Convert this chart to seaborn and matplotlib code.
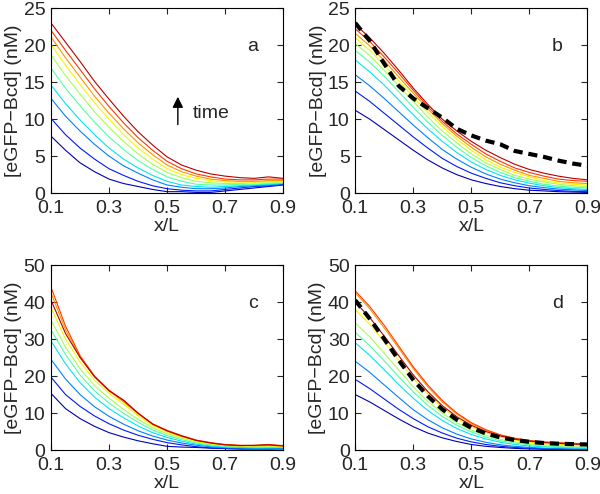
import numpy as np
import pandas as pd
import matplotlib
matplotlib.use("Agg")
import matplotlib.pyplot as plt
import seaborn as sns

# ---------------- data ----------------
x_pos = [0.10, 0.15, 0.20, 0.25, 0.30, 0.35, 0.40, 0.45, 0.50,
         0.55, 0.60, 0.65, 0.70, 0.75, 0.80, 0.85, 0.90]

# panel a: measured profiles, early (blue) -> late (dark red)
a_curves = [
    [7.7, 5.8, 4.1, 2.9, 1.9, 1.3, 0.9, 0.5, 0.2, 0.2, 0.1, 0.1, 0.3, 0.5, 0.7, 0.9, 1.1],
    [10.1, 7.9, 6.1, 4.6, 3.3, 2.4, 1.6, 1.0, 0.6, 0.4, 0.3, 0.3, 0.5, 0.7, 0.9, 1.0, 1.2],
    [12.8, 10.4, 8.4, 6.6, 5.0, 3.7, 2.7, 1.8, 1.1, 0.8, 0.6, 0.6, 0.7, 0.9, 1.0, 1.1, 1.3],
    [14.6, 12.1, 9.9, 7.9, 6.1, 4.6, 3.4, 2.4, 1.6, 1.1, 0.9, 0.8, 0.9, 1.0, 1.1, 1.2, 1.3],
    [16.9, 14.2, 11.8, 9.6, 7.6, 5.9, 4.4, 3.2, 2.2, 1.6, 1.2, 1.1, 1.1, 1.2, 1.2, 1.3, 1.4],
    [18.7, 15.9, 13.4, 11.0, 8.9, 7.0, 5.3, 3.9, 2.8, 2.1, 1.6, 1.4, 1.3, 1.3, 1.4, 1.4, 1.5],
    [20.1, 17.3, 14.7, 12.2, 10.0, 7.9, 6.1, 4.6, 3.3, 2.5, 2.0, 1.7, 1.5, 1.5, 1.5, 1.6, 1.6],
    [21.1, 18.3, 15.7, 13.1, 10.8, 8.7, 6.8, 5.2, 3.8, 2.9, 2.3, 1.9, 1.7, 1.6, 1.6, 1.7, 1.7],
    [22.0, 19.3, 16.7, 14.1, 11.7, 9.5, 7.5, 5.8, 4.3, 3.3, 2.6, 2.2, 1.9, 1.8, 1.8, 1.9, 1.9],
    [23.0, 20.4, 17.8, 15.1, 12.7, 10.4, 8.3, 6.5, 4.9, 3.8, 3.1, 2.6, 2.3, 2.1, 2.0, 2.2, 2.0],
]

# panel b: model profiles + dashed measured profile
b_curves = [
    [11.2, 10.0, 8.6, 7.2, 5.8, 4.5, 3.4, 2.5, 1.8, 1.3, 0.9, 0.6, 0.4, 0.3, 0.2, 0.15, 0.1],
    [13.8, 12.4, 10.8, 9.2, 7.6, 6.1, 4.7, 3.6, 2.7, 2.0, 1.4, 1.0, 0.7, 0.5, 0.35, 0.25, 0.2],
    [16.0, 14.5, 12.8, 11.0, 9.2, 7.5, 5.9, 4.6, 3.5, 2.6, 1.9, 1.4, 1.0, 0.75, 0.55, 0.45, 0.35],
    [18.0, 16.4, 14.6, 12.6, 10.6, 8.7, 7.0, 5.5, 4.2, 3.2, 2.4, 1.8, 1.35, 1.0, 0.75, 0.6, 0.5],
    [19.3, 17.7, 15.8, 13.7, 11.6, 9.6, 7.8, 6.2, 4.8, 3.7, 2.8, 2.1, 1.6, 1.2, 0.95, 0.8, 0.7],
    [20.2, 18.6, 16.6, 14.5, 12.4, 10.3, 8.4, 6.8, 5.3, 4.1, 3.2, 2.4, 1.9, 1.5, 1.2, 1.0, 0.9],
    [21.0, 19.3, 17.3, 15.2, 13.0, 10.9, 9.0, 7.3, 5.8, 4.5, 3.5, 2.8, 2.2, 1.7, 1.4, 1.2, 1.1],
    [21.6, 19.9, 17.9, 15.7, 13.5, 11.4, 9.4, 7.7, 6.2, 4.9, 3.9, 3.1, 2.4, 2.0, 1.6, 1.4, 1.3],
    [22.2, 20.5, 18.4, 16.2, 13.9, 11.7, 9.7, 8.0, 6.6, 5.3, 4.3, 3.4, 2.8, 2.3, 1.9, 1.7, 1.6],
    [22.8, 21.0, 18.9, 16.6, 14.2, 12.0, 10.0, 8.4, 7.0, 5.8, 4.8, 3.9, 3.2, 2.7, 2.3, 2.0, 1.8],
]
b_dashed = [23.0, 20.6, 17.5, 14.5, 12.8, 11.5, 10.2, 8.7, 7.8, 7.1, 6.6, 5.7, 5.3, 4.9, 4.4, 4.0, 3.7]

# panel c: measured profiles
c_curves = [
    [15.3, 11.2, 8.5, 6.4, 4.7, 3.5, 2.5, 1.7, 1.0, 0.8, 0.7, 0.5, 0.4, 0.3, 0.3, 0.3, 0.3],
    [19.7, 15.0, 11.8, 9.2, 7.1, 5.4, 4.0, 2.9, 2.0, 1.4, 0.9, 0.6, 0.4, 0.3, 0.3, 0.3, 0.4],
    [24.5, 19.2, 15.0, 11.7, 9.1, 7.0, 5.2, 3.8, 2.7, 1.9, 1.3, 0.9, 0.6, 0.5, 0.4, 0.5, 0.5],
    [29.5, 23.3, 18.2, 14.3, 11.2, 8.7, 6.5, 4.7, 3.4, 2.4, 1.6, 1.1, 0.8, 0.7, 0.6, 0.6, 0.6],
    [32.5, 25.8, 20.3, 16.0, 12.7, 9.9, 7.5, 5.4, 3.9, 2.8, 1.9, 1.4, 1.0, 0.9, 0.8, 0.8, 0.8],
    [35.1, 27.8, 22.0, 17.4, 14.0, 11.0, 8.3, 6.0, 4.4, 3.2, 2.2, 1.6, 1.2, 1.0, 1.0, 1.0, 0.9],
    [38.5, 30.0, 23.8, 18.9, 15.3, 12.4, 9.3, 6.6, 4.8, 3.5, 2.4, 1.7, 1.3, 1.1, 1.1, 1.2, 1.0],
    [42.5, 32.5, 25.2, 19.8, 16.0, 13.0, 9.8, 7.0, 5.1, 3.7, 2.6, 1.9, 1.4, 1.2, 1.2, 1.3, 1.1],
    [44.0, 33.5, 25.5, 20.0, 16.2, 13.3, 9.9, 7.1, 5.3, 3.9, 2.7, 2.0, 1.5, 1.3, 1.2, 1.5, 1.2],
    [40.5, 31.5, 25.0, 19.8, 16.0, 13.5, 10.0, 7.0, 5.2, 3.8, 2.6, 1.9, 1.4, 1.2, 1.3, 1.4, 1.1],
]

# panel d: model profiles + dashed measured profile
d_curves = [
    [15.0, 13.0, 10.7, 8.4, 6.3, 4.6, 3.3, 2.3, 1.5, 1.0, 0.7, 0.45, 0.3, 0.2, 0.15, 0.1, 0.1],
    [19.1, 16.6, 13.8, 11.0, 8.5, 6.3, 4.6, 3.2, 2.2, 1.5, 1.0, 0.7, 0.5, 0.35, 0.25, 0.2, 0.2],
    [24.0, 21.0, 17.6, 14.2, 10.9, 8.2, 6.0, 4.3, 3.0, 2.1, 1.4, 1.0, 0.7, 0.5, 0.4, 0.3, 0.3],
    [29.0, 25.6, 21.7, 17.7, 14.0, 10.7, 8.0, 5.8, 4.2, 3.0, 2.1, 1.5, 1.1, 0.9, 0.7, 0.6, 0.5],
    [31.8, 28.2, 24.1, 19.8, 15.7, 12.1, 9.1, 6.7, 4.9, 3.5, 2.5, 1.9, 1.4, 1.1, 0.9, 0.8, 0.7],
    [34.4, 30.6, 26.2, 21.6, 17.1, 13.2, 10.0, 7.4, 5.4, 4.0, 2.9, 2.2, 1.7, 1.4, 1.2, 1.1, 1.0],
    [38.0, 34.0, 29.3, 24.3, 19.4, 15.1, 11.5, 8.6, 6.3, 4.7, 3.5, 2.7, 2.1, 1.7, 1.5, 1.4, 1.3],
    [42.5, 38.2, 33.0, 27.5, 22.0, 17.1, 13.0, 9.7, 7.1, 5.3, 4.0, 3.1, 2.5, 2.1, 1.9, 1.7, 1.6],
    [43.0, 38.8, 33.7, 28.1, 22.5, 17.6, 13.4, 10.0, 7.4, 5.5, 4.1, 3.2, 2.6, 2.2, 2.0, 1.8, 1.7],
    [40.0, 35.8, 30.8, 25.5, 20.3, 15.8, 12.0, 9.0, 6.7, 5.0, 3.8, 2.9, 2.4, 2.0, 1.8, 1.6, 1.5],
]
d_dashed = [40.5, 35.5, 30.0, 24.3, 19.0, 14.6, 11.0, 8.2, 6.0, 4.5, 3.4, 2.7, 2.2, 1.9, 1.7, 1.6, 1.5]

x_ticks = [0.1, 0.3, 0.5, 0.7, 0.9]
ylabel = "[eGFP\u2212Bcd] (nM)"

# ---------------- style ----------------
sns.set_style("ticks", {"xtick.direction": "in", "ytick.direction": "in"})
plt.rcParams["font.family"] = ["Liberation Sans", "DejaVu Sans"]
plt.rcParams["axes.linewidth"] = 0.8


def to_long(curves):
    rows = []
    for i, vals in enumerate(curves):
        for xv, yv in zip(x_pos, vals):
            rows.append({"x": xv, "v": yv, "t": i})
    return pd.DataFrame(rows)


def draw_panel(ax, curves, dashed, ymax, ystep, letter, letter_y):
    df = to_long(curves)
    # matlab-like jet colours
    pal = [tuple(c) for c in plt.get_cmap("jet")(np.linspace(0.05, 0.95, len(curves)))]
    sns.lineplot(data=df, x="x", y="v", hue="t", palette=pal, legend=False,
                 lw=0.8, ax=ax, estimator=None, sort=False)
    if dashed is not None:
        sns.lineplot(x=x_pos, y=dashed, color="black", lw=3.0,
                     linestyle=(0, (2.2, 1.4)), ax=ax, estimator=None)
    ax.set_xlim(0.1, 0.9)
    ax.set_ylim(0, ymax)
    ax.set_xticks(x_ticks)
    ax.set_xticklabels([str(t) for t in x_ticks])
    ax.set_yticks(np.arange(0, ymax + 1, ystep))
    ax.tick_params(direction="in", top=True, right=True, length=4,
                   width=0.8, labelsize=14)
    ax.tick_params(axis="x", pad=5)
    ax.tick_params(axis="y", pad=4)
    for s in ax.spines.values():
        s.set_visible(True)
        s.set_color("black")
    ax.set_xlabel("x/L", fontsize=14, labelpad=1)
    ax.set_ylabel(ylabel, fontsize=14, labelpad=1)
    ax.text(0.796, letter_y, letter, fontsize=14, ha="center", va="center")


fig = plt.figure(figsize=(6.0, 4.94), dpi=100)
w, h = 0.387, 0.3745
ax_a = fig.add_axes([0.085, 0.609, w, h])
ax_b = fig.add_axes([0.592, 0.609, w, h])
ax_c = fig.add_axes([0.085, 0.089, w, h])
ax_d = fig.add_axes([0.592, 0.089, w, h])

draw_panel(ax_a, a_curves, None, 25, 5, "a", 19.8)
draw_panel(ax_b, b_curves, b_dashed, 25, 5, "b", 19.8)
draw_panel(ax_c, c_curves, None, 50, 10, "c", 39.6)
draw_panel(ax_d, d_curves, d_dashed, 50, 10, "d", 39.6)

# time arrow in panel a
ax_a.annotate("", xy=(0.537, 13.4), xytext=(0.537, 8.9),
              arrowprops=dict(arrowstyle="-|>", color="black", lw=1.0,
                              mutation_scale=16))
ax_a.text(0.588, 10.8, "time", fontsize=14, ha="left", va="center")

fig.savefig("out.png", dpi=100)
